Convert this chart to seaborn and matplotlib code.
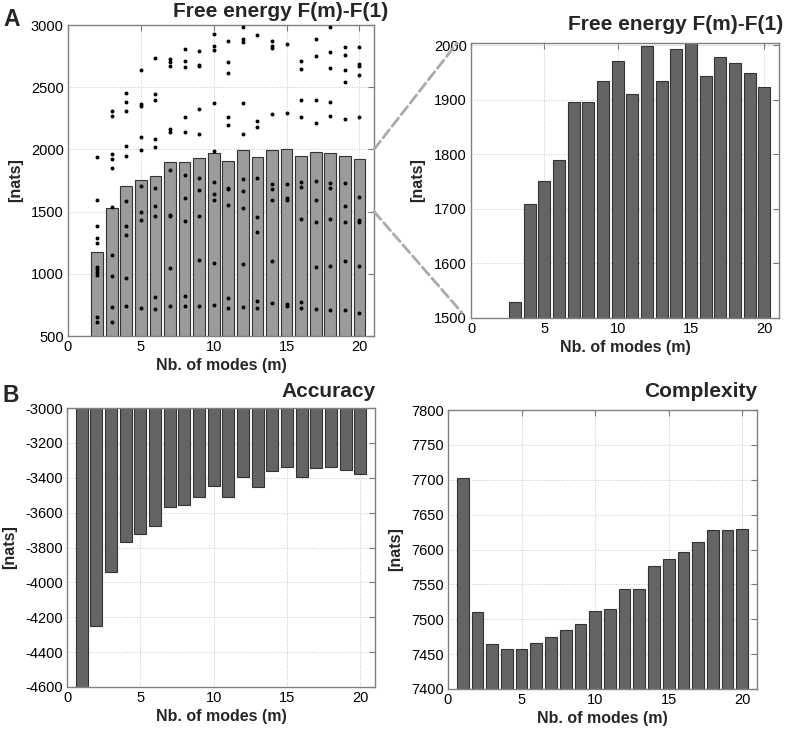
"""
Free energy / accuracy / complexity against number of modes (panels A and B).
Writes out.png.
"""
import matplotlib.pyplot as plt
import numpy as np
import pandas as pd
import seaborn as sns
from matplotlib.patches import ConnectionPatch

sns.set_style("white")
plt.rcParams["font.family"] = ["Liberation Sans", "DejaVu Sans"]
plt.rcParams["axes.unicode_minus"] = False

# ---- data ----
modes = list(range(1, 21))

# F(m) - F(1), m = 2..20
fe_modes = list(range(2, 21))
free_energy = [1176, 1530, 1709, 1752, 1790, 1896, 1896, 1934, 1971, 1910,
               1999, 1935, 1993, 2005, 1944, 1979, 1968, 1949, 1923]

# individual runs (black dots), one list per m = 2..20
fe_runs = [
    [1941, 1590, 1383, 1287, 1247, 1056, 1035, 1011, 992, 649, 611],
    [2308, 2265, 1962, 1920, 1853, 1539, 1150, 979, 732, 611],
    [2456, 2378, 2311, 2029, 1946, 1587, 1383, 1308, 965, 743],
    [2635, 2362, 2351, 2102, 1992, 1702, 1496, 1432, 729],
    [2732, 2448, 2399, 2086, 2021, 1686, 1547, 1461, 810, 716],
    [2724, 2705, 2673, 2166, 2137, 1831, 1474, 1464, 1048, 743],
    [2810, 2708, 2662, 2263, 2139, 1791, 1609, 1421, 820, 740],
    [2794, 2681, 2668, 2322, 2121, 1767, 1673, 1464, 1110, 743],
    [2928, 2831, 2802, 2373, 1989, 1735, 1638, 1590, 1088, 748],
    [2869, 2702, 2611, 2257, 2196, 1692, 1684, 1555, 802, 729],
    [2987, 2885, 2863, 2373, 2126, 1759, 1665, 1531, 1075, 737],
    [2922, 2231, 2182, 1767, 1458, 1332, 783, 724],
    [2874, 2831, 2812, 2284, 1719, 1681, 1590, 1099, 767],
    [2850, 2295, 1721, 1609, 1595, 756, 743],
    [2708, 2643, 2399, 2257, 1737, 1700, 1437, 772, 724],
    [2887, 2748, 2399, 2212, 1745, 1592, 1418, 1056, 716],
    [2981, 2780, 2654, 2381, 2265, 1732, 1692, 1437, 1064, 708],
    [2820, 2759, 2641, 2542, 2247, 1729, 1547, 1413, 1099, 708],
    [2820, 2684, 2673, 2601, 2257, 1619, 1434, 1413, 1059, 686],
]

accuracy = [-5230, -4249, -3939, -3770, -3724, -3678, -3565, -3554, -3508, -3450,
            -3510, -3393, -3454, -3364, -3341, -3397, -3343, -3337, -3356, -3381]

complexity = [7703, 7510, 7465, 7457, 7457, 7466, 7474, 7485, 7493, 7512,
              7515, 7544, 7544, 7577, 7587, 7596, 7611, 7628, 7628, 7630]

runs = pd.DataFrame(
    [(m, v) for m, vals in zip(fe_modes, fe_runs) for v in vals],
    columns=["m", "value"],
)

LIGHT = "#9b9b9b"
DARK = "#646464"
EDGE = "#333333"
XLABEL = "Nb. of modes (m)"
W, H = 787, 732


def style_axes(ax, ylim, yticks):
    ax.set_xlim(0, 21)
    ax.set_ylim(*ylim)
    ax.set_xticks([0, 5, 10, 15, 20])
    ax.set_yticks(yticks)
    ax.grid(True, linestyle=":", color="#c8c8c8", linewidth=0.7)
    ax.set_axisbelow(True)
    ax.tick_params(direction="in", top=True, right=True, length=4,
                   color="#777777", labelsize=10.5, labelcolor="black", pad=3)
    for sp in ax.spines.values():
        sp.set_color("#808080")
        sp.set_linewidth(1.0)
    ax.set_xlabel(XLABEL, fontsize=11.5, fontweight="bold", labelpad=3)
    ax.set_ylabel("[nats]", fontsize=11.5, fontweight="bold", labelpad=6)


def title(text, right_px, base_px):
    fig.text(right_px / W, 1 - base_px / H, text, ha="right", va="baseline",
             fontsize=15, fontweight="bold")


fig = plt.figure(figsize=(W / 100, H / 100), dpi=100)
ax1 = fig.add_axes([68 / W, 1 - 336 / H, 306 / W, 311 / H])
ax2 = fig.add_axes([471 / W, 1 - 318 / H, 308 / W, 275 / H])
ax3 = fig.add_axes([67 / W, 1 - 687 / H, 308 / W, 279 / H])
ax4 = fig.add_axes([448 / W, 1 - 689 / H, 309 / W, 279 / H])

# A, left: bars with individual runs
sns.barplot(x=fe_modes, y=free_energy, native_scale=True, color=LIGHT,
            saturation=1, edgecolor=EDGE, linewidth=0.8, width=0.8,
            errorbar=None, ax=ax1)
sns.scatterplot(data=runs, x="m", y="value", color="black", s=8,
                linewidth=0, ax=ax1, zorder=3)
style_axes(ax1, (500, 3000), range(500, 3001, 500))

# A, right: zoom on the bars
sns.barplot(x=fe_modes, y=free_energy, native_scale=True, color=DARK,
            saturation=1, edgecolor=EDGE, linewidth=0.8, width=0.8,
            errorbar=None, ax=ax2)
style_axes(ax2, (1500, 2004), range(1500, 2001, 100))

# B: accuracy and complexity
sns.barplot(x=modes, y=accuracy, native_scale=True, color=DARK,
            saturation=1, edgecolor=EDGE, linewidth=0.8, width=0.8,
            errorbar=None, ax=ax3)
style_axes(ax3, (-4600, -3000), range(-4600, -2999, 200))

sns.barplot(x=modes, y=complexity, native_scale=True, color=DARK,
            saturation=1, edgecolor=EDGE, linewidth=0.8, width=0.8,
            errorbar=None, ax=ax4)
style_axes(ax4, (7400, 7800), range(7400, 7801, 50))

# dashed zoom connectors
for ya, xb, yb in [(2000, -0.045, 1.0), (1500, -0.03, 0.02)]:
    con = ConnectionPatch(xyA=(21, ya), coordsA=ax1.transData,
                          xyB=(xb, yb), coordsB=ax2.transAxes,
                          linestyle="--", color="#aaaaaa", linewidth=2)
    fig.add_artist(con)

title("Free energy F(m)-F(1)", 388, 17)
title("Free energy F(m)-F(1)", 783, 30)
title("Accuracy", 376, 397)
title("Complexity", 757, 397)

fig.text(3 / W, 1 - 26 / H, "A", fontsize=16.5, fontweight="bold", va="baseline")
fig.text(2 / W, 1 - 402 / H, "B", fontsize=16.5, fontweight="bold", va="baseline")

fig.savefig("out.png", dpi=100)
